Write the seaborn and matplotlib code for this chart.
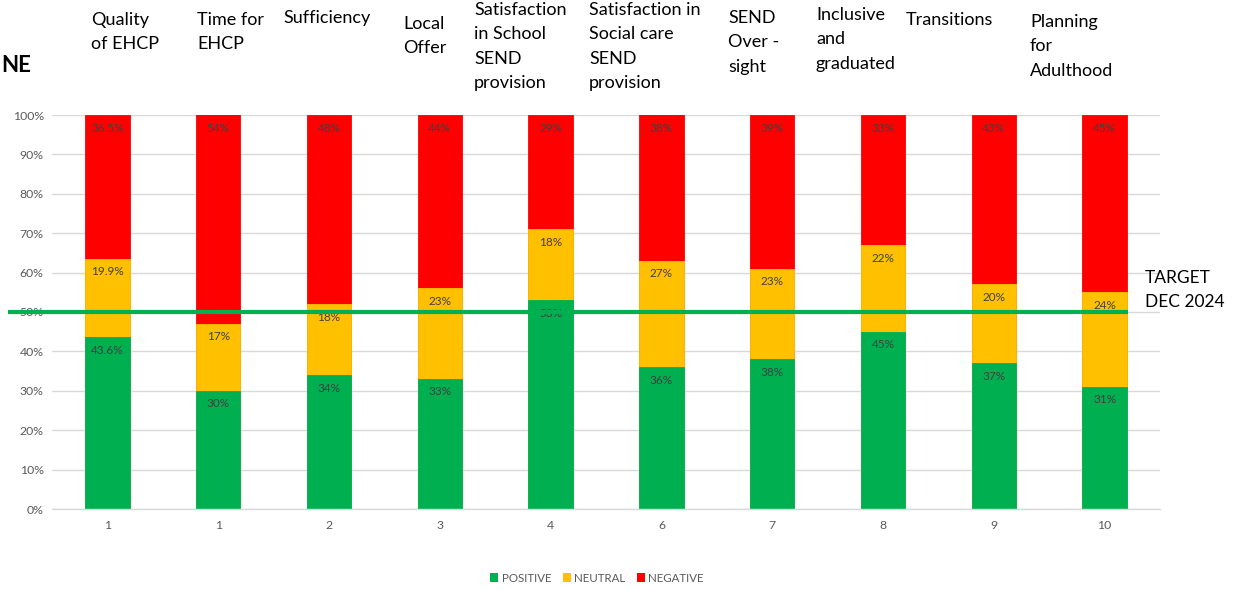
import matplotlib
matplotlib.use("Agg")
import matplotlib.pyplot as plt
import matplotlib.transforms as mtransforms
from matplotlib.patches import Patch
import seaborn as sns
import pandas as pd

# ---- data ----
categories = ["Quality\nof EHCP", "Time for\nEHCP", "Sufficiency", "Local\nOffer",
              "Satisfaction\nin School\nSEND\nprovision",
              "Satisfaction in\nSocial care\nSEND\nprovision",
              "SEND\nOver -\nsight", "Inclusive\nand\ngraduated", "Transitions",
              "Planning\nfor\nAdulthood"]
tick_labels = ["1", "1", "2", "3", "4", "6", "7", "8", "9", "10"]
positive = [0.436, 0.30, 0.34, 0.33, 0.53, 0.36, 0.38, 0.45, 0.37, 0.31]
neutral = [0.199, 0.17, 0.18, 0.23, 0.18, 0.27, 0.23, 0.22, 0.20, 0.24]
negative = [0.365, 0.54, 0.48, 0.44, 0.29, 0.38, 0.39, 0.33, 0.43, 0.45]
positive_labels = ["43.6%", "30%", "34%", "33%", "53%", "36%", "38%", "45%", "37%", "31%"]
neutral_labels = ["19.9%", "17%", "18%", "23%", "18%", "27%", "23%", "22%", "20%", "24%"]
negative_labels = ["36.5%", "54%", "48%", "44%", "29%", "38%", "39%", "33%", "43%", "45%"]
series_names = ["POSITIVE", "NEUTRAL", "NEGATIVE"]
target = 0.50
target_label = "TARGET\nDEC 2024"

colors = {"POSITIVE": "#00B050", "NEUTRAL": "#FFC000", "NEGATIVE": "#FF0000"}

sns.set_theme(style="white")
plt.rcParams["font.family"] = ["Lato", "DejaVu Sans"]

df = pd.DataFrame({"cat": categories, "pos": positive, "neu": neutral, "neg": negative})
df["top_neu"] = df["pos"] + df["neu"]
df["top_neg"] = df["top_neu"] + df["neg"]

fig = plt.figure(figsize=(12.4, 5.9), dpi=100)
ax = fig.add_axes([52 / 1240, 1 - 509 / 590, (1160 - 52) / 1240, (509 - 115) / 590])

# stacked bars: draw cumulative totals, largest first
for col, name in [("top_neg", "NEGATIVE"), ("top_neu", "NEUTRAL"), ("pos", "POSITIVE")]:
    sns.barplot(data=df, x="cat", y=col, order=categories, color=colors[name],
                width=0.4, ax=ax, saturation=1, edgecolor=colors[name],
                linewidth=0.6, zorder=2)

ax.set_ylim(0, 1.0)
ax.set_xlim(-0.5, len(categories) - 0.5)
ax.set_yticks([i / 10 for i in range(11)])
ax.set_yticklabels([f"{i*10}%" for i in range(11)], color="#595959", fontsize=8.8)
ax.set_xticks(range(len(categories)))
ax.set_xticklabels(tick_labels, color="#595959", fontsize=8.8)
ax.tick_params(axis="both", length=0, pad=6)
ax.tick_params(axis="x", pad=8)
ax.set_xlabel("")
ax.set_ylabel("")
ax.yaxis.grid(True, color="#D9D9D9", linewidth=1, zorder=0)
ax.set_axisbelow(True)
for s in ["top", "right", "left"]:
    ax.spines[s].set_visible(False)
ax.spines["bottom"].set_color("#D9D9D9")
ax.spines["bottom"].set_linewidth(1)

# data labels (inside end)
for i in range(len(categories)):
    tops = [df["pos"][i], df["top_neu"][i], min(df["top_neg"][i], 1.0)]
    labs = [positive_labels[i], neutral_labels[i], negative_labels[i]]
    for t, lab in zip(tops, labs):
        ax.annotate(lab, (i, t), xytext=(0, -13), textcoords="offset pixels",
                    ha="center", va="center", fontsize=8.5, color="#404040", zorder=5)

# target line spanning beyond the axes
trans = mtransforms.blended_transform_factory(fig.transFigure, ax.transData)
ax.plot([8 / 1240, 1128 / 1240], [target, target], transform=trans, color="#00B050",
        linewidth=3, clip_on=False, zorder=6, solid_capstyle="butt")

# header texts
header_pos = [(91, 12), (197, 12), (283, 10), (403, 16), (474, 2), (589, 2),
              (728, 10), (816, 7), (906, 12), (1030, 14)]
for (x, y), txt in zip(header_pos, categories):
    fig.text(x / 1240, 1 - y / 590, txt, ha="left", va="top", fontsize=13,
             color="#000000", linespacing=1.65)
fig.text(1145 / 1240, 1 - 270 / 590, target_label, ha="left", va="top", fontsize=12.5,
         color="#000000", linespacing=1.65)
fig.text(1 / 1240, 1 - 55 / 590, "NE", ha="left", va="top", fontsize=16,
         fontweight="bold", color="#000000")

handles = [Patch(facecolor=colors[n], edgecolor="none", label=n) for n in series_names]
leg = fig.legend(handles=handles, loc="center", bbox_to_anchor=(597 / 1240, 1 - 578 / 590),
                 ncol=3, frameon=False, fontsize=8.3, handlelength=0.7, handleheight=0.7,
                 handletextpad=0.3, columnspacing=1.0)
for t in leg.get_texts():
    t.set_color("#595959")

fig.savefig("out.png", dpi=100)
